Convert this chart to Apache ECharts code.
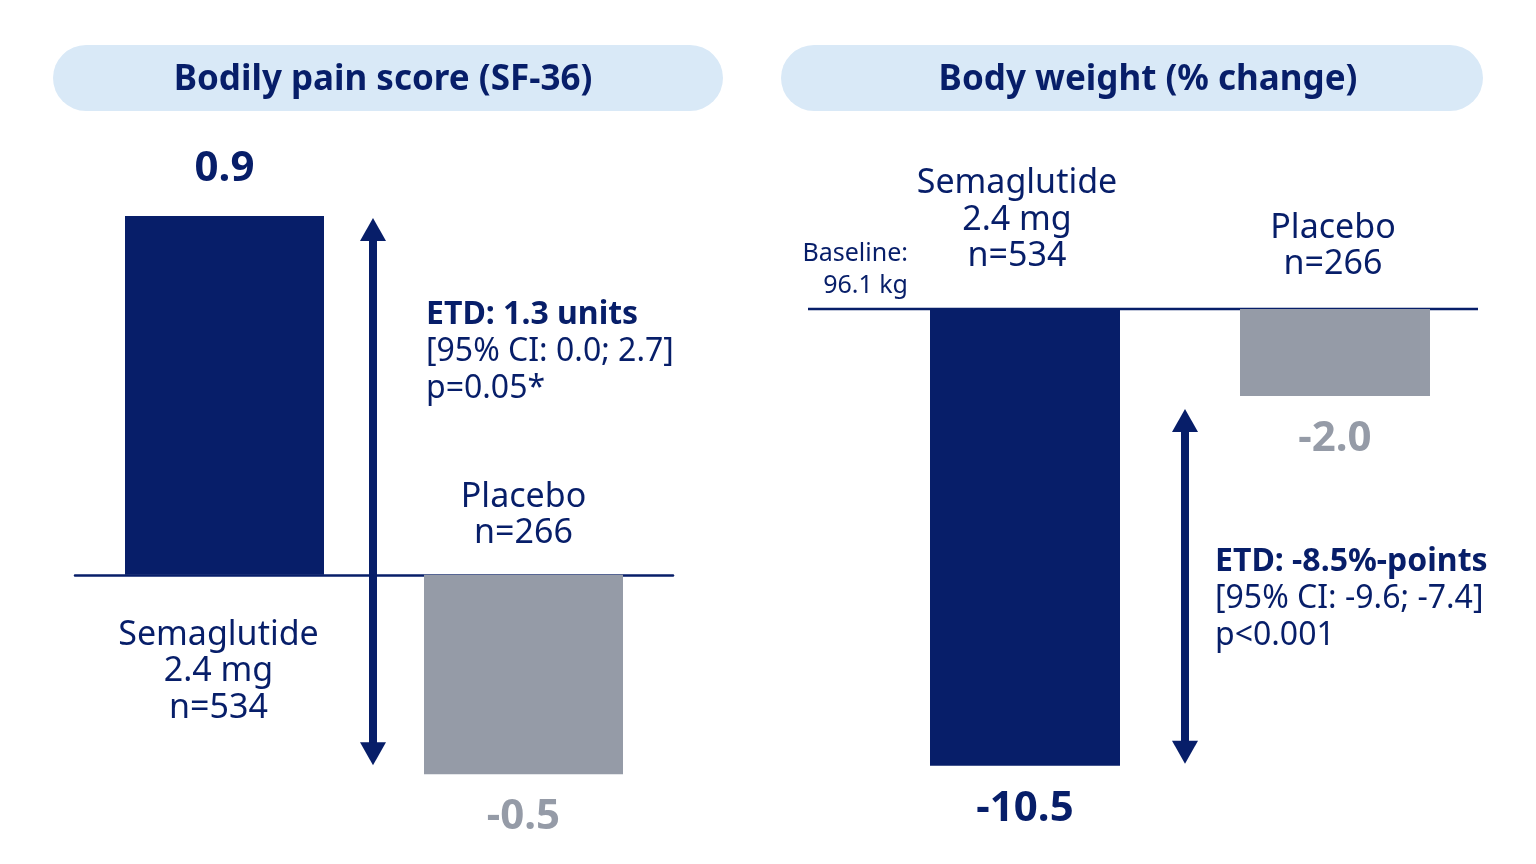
<!DOCTYPE html>
<html>
<head>
<meta charset="utf-8">
<title>Bodily pain score and body weight</title>
<script src="https://cdn.jsdelivr.net/npm/echarts@6/dist/echarts.min.js"></script>
<style>
  html, body { margin: 0; padding: 0; background: #fff; }
  #main { width: 1536px; height: 864px; }
</style>
</head>
<body>
<div id="main"></div>
<script>
// data
var groups = ['Semaglutide 2.4 mg', 'Placebo'];
var groupText = ['Semaglutide\n2.4 mg\nn=534', 'Placebo\nn=266'];
var painValues = [0.9, -0.5];
var weightValues = [-10.5, -2.0];
var panelTitles = ['Bodily pain score (SF-36)', 'Body weight (% change)'];
var painEtd = ['ETD: 1.3 units', '[95% CI: 0.0; 2.7]', 'p=0.05*'];
var weightEtd = ['ETD: -8.5%-points', '[95% CI: -9.6; -7.4]', 'p<0.001'];
var baselineText = 'Baseline:\n96.1 kg';

var NAVY = '#071e69';
var GREY = '#959ba7';
var PILL = '#d9e9f7';
var FONT = '"Noto Sans", sans-serif';

var myChart = echarts.init(document.getElementById('main'));

function barData(values) {
    return values.map(function (v, i) {
        var c = i === 0 ? NAVY : GREY;
        return {
            value: v,
            itemStyle: { color: c },
            label: { color: c, position: v >= 0 ? 'top' : 'bottom', distance: v >= 0 ? 26 : 22 }
        };
    });
}

var barLabel = {
    show: true,
    fontFamily: FONT,
    fontWeight: 'bold',
    fontSize: 42,
    formatter: function (p) { return p.value.toFixed(1); }
};

var option = {
    animation: false,
    textStyle: { fontFamily: FONT },
    grid: [
        { left: 75, right: 863, top: 176, bottom: 50 },
        { left: 870, right: 46, top: 222, bottom: 33 }
    ],
    xAxis: [
        {
            type: 'category', gridIndex: 0, data: groups,
            axisLine: { show: true, onZero: true, lineStyle: { color: NAVY, width: 2.5 } },
            axisTick: { show: false }, axisLabel: { show: false }
        },
        {
            type: 'category', gridIndex: 1, data: groups,
            axisLine: { show: false }, axisTick: { show: false }, axisLabel: { show: false }
        }
    ],
    yAxis: [
        { type: 'value', gridIndex: 0, min: -0.6, max: 1.0, show: false, splitLine: { show: false } },
        { type: 'value', gridIndex: 1, min: -12, max: 2, show: false, splitLine: { show: false } }
    ],
    series: [
        {
            type: 'bar', xAxisIndex: 0, yAxisIndex: 0, barWidth: 199,
            data: barData(painValues), label: barLabel
        },
        {
            type: 'bar', xAxisIndex: 1, yAxisIndex: 1, barWidth: 190,
            data: barData(weightValues), label: barLabel
        }
    ]
};
myChart.setOption(option);

// annotations placed from the axes
function px(grid, cat, val) {
    return myChart.convertToPixel({ gridIndex: grid }, [cat, val]);
}

function arrow(x, y1, y2) {
    var hw = 13, hl = 23, sw = 4;
    return [
        { type: 'rect', shape: { x: x - sw, y: y1 + hl - 1, width: sw * 2, height: y2 - y1 - 2 * hl + 2 }, style: { fill: NAVY }, z: 10 },
        { type: 'polygon', shape: { points: [[x, y1], [x - hw, y1 + hl], [x + hw, y1 + hl]] }, style: { fill: NAVY }, z: 10 },
        { type: 'polygon', shape: { points: [[x, y2], [x - hw, y2 - hl], [x + hw, y2 - hl]] }, style: { fill: NAVY }, z: 10 }
    ];
}

function etdText(x, y, lines) {
    return {
        type: 'text', x: x, y: y, z: 10,
        style: {
            text: '{b|' + lines[0] + '}\n' + lines[1] + '\n' + lines[2],
            fontFamily: FONT, fontSize: 32, lineHeight: 37, fill: NAVY,
            rich: { b: { fontFamily: FONT, fontSize: 32, fontWeight: 'bold', lineHeight: 37, fill: NAVY } }
        }
    };
}

function groupLabel(x, y, txt, vAlign) {
    return {
        type: 'text', x: x, y: y, z: 10,
        style: {
            text: txt, fontFamily: FONT, fontSize: 34, lineHeight: 36.5, fill: NAVY,
            align: 'center', verticalAlign: vAlign
        }
    };
}

function pill(x, y, w, h, title, dx) {
    return [
        { type: 'rect', shape: { x: x, y: y, width: w, height: h, r: h / 2 }, style: { fill: PILL } },
        {
            type: 'text', x: x + w / 2 + dx, y: y + h / 2 + 2,
            style: { text: title, fontFamily: FONT, fontSize: 35, fontWeight: 'bold', fill: NAVY, align: 'center', verticalAlign: 'middle' }
        }
    ];
}

var l0 = px(0, 0, 0), l1 = px(0, 1, 0);
var lTop = px(0, 0, painValues[0]), lBot = px(0, 1, painValues[1]);
var r0 = px(1, 0, 0), r1 = px(1, 1, 0);
var rTop = px(1, 1, weightValues[1]), rBot = px(1, 0, weightValues[0]);
var lMid = (l0[0] + l1[0]) / 2;
var rMid = (r0[0] + r1[0]) / 2;

var graphics = []
    .concat(pill(53, 45, 670, 66, panelTitles[0], -5))
    .concat(pill(781, 45, 702, 66, panelTitles[1], 16))
    .concat(arrow(lMid - 1, lTop[1] + 2, lBot[1] - 9))
    .concat(arrow(rMid + 5, rTop[1] + 13, rBot[1] - 2))
    .concat([
        { type: 'line', shape: { x1: 808, y1: r0[1], x2: 1478, y2: r0[1] }, style: { stroke: NAVY, lineWidth: 2.5 } },
        etdText(426, 296, painEtd),
        etdText(1215, 543, weightEtd),
        groupLabel(l0[0] - 6, l0[1] + 42, groupText[0], 'top'),
        groupLabel(l1[0], l1[1] - 23, groupText[1], 'bottom'),
        groupLabel(r0[0] - 8, r0[1] - 34, groupText[0], 'bottom'),
        groupLabel(r1[0] - 2, r1[1] - 26, groupText[1], 'bottom'),
        {
            type: 'text', x: 908, y: 302,
            style: { text: baselineText, fontFamily: FONT, fontSize: 25, lineHeight: 32, fill: NAVY, align: 'right', verticalAlign: 'bottom' }
        }
    ]);

myChart.setOption({ graphic: graphics });
</script>
</body>
</html>
